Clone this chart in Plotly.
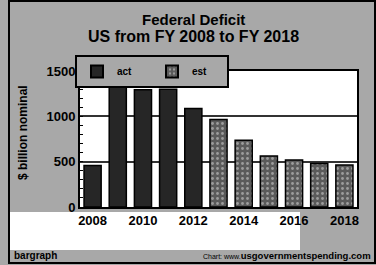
import plotly.graph_objects as go

years_act = [2008, 2009, 2010, 2011, 2012]
deficit_act = [459, 1413, 1294, 1300, 1087]
years_est = [2013, 2014, 2015, 2016, 2017, 2018]
deficit_est = [966, 737, 563, 519, 481, 463]
y_ticks = [0, 500, 1000, 1500]
x_ticks = [2008, 2010, 2012, 2014, 2016, 2018]

W, H = 376, 265
L, R, T, B = 80, 19, 71, 58
pw, ph = W - L - R, H - T - B

def px(x):
    return (x - L) / pw

def py(y):
    return (H - B - y) / ph

FONT = "Liberation Sans"

fig = go.Figure()
fig.add_trace(go.Bar(
    x=years_act, y=deficit_act, name="act", width=0.68,
    marker=dict(color="#262626", line=dict(color="black", width=1.5)),
))
fig.add_trace(go.Bar(
    x=years_est, y=deficit_est, name="est", width=0.68,
    marker=dict(color="#5a5a5a", line=dict(color="black", width=1.5),
                pattern=dict(shape=".", fgcolor="#e0e0e0", size=5, solidity=0.25)),
))

fig.update_layout(
    width=W, height=H,
    margin=dict(l=L, r=R, t=T, b=B),
    paper_bgcolor="#a8a8a8",
    plot_bgcolor="white",
    barmode="overlay",
    font=dict(family=FONT, color="black"),
    showlegend=True,
    legend=dict(
        orientation="h", x=px(75), y=py(55), xanchor="left", yanchor="top",
        bgcolor="#a8a8a8", bordercolor="black", borderwidth=2,
        font=dict(size=10, family=FONT, color="black", weight="bold"),
        entrywidth=30, itemsizing="constant",
    ),
    xaxis=dict(
        range=[2007.5, 2018.5], tickvals=x_ticks, ticktext=[str(v) for v in x_ticks],
        tickfont=dict(size=13, family=FONT, weight="bold"),
        showgrid=False, zeroline=False, showline=True, linecolor="black", linewidth=2,
        mirror=True, ticks="", fixedrange=True,
    ),
    yaxis=dict(
        range=[0, 1500], tickvals=y_ticks,
        tickfont=dict(size=13, family=FONT, weight="bold"),
        showgrid=True, gridcolor="#333333", gridwidth=1.5,
        zeroline=False, showline=True, linecolor="black", linewidth=2, mirror=True,
        ticks="", minor=dict(dtick=100, ticks="inside", ticklen=3, tickcolor="black", showgrid=False),
    ),
)

fig.add_shape(type="rect", xref="paper", yref="paper", x0=px(10), x1=px(300), y0=py(250), y1=py(212),
              fillcolor="white", line=dict(width=0), layer="below")
fig.add_shape(type="rect", xref="paper", yref="paper", x0=px(9), x1=px(375), y0=py(263), y1=py(1),
              fillcolor="rgba(0,0,0,0)", line=dict(color="black", width=2))

fig.add_annotation(text="<b>Federal Deficit</b>", xref="paper", yref="paper", x=px(193), y=py(19),
                   showarrow=False, font=dict(size=15, family=FONT), xanchor="center", yanchor="middle")
fig.add_annotation(text="<b>US from FY 2008 to FY 2018</b>", xref="paper", yref="paper", x=px(193), y=py(36),
                   showarrow=False, font=dict(size=16, family=FONT), xanchor="center", yanchor="middle")
fig.add_annotation(text="<b>$ billion nominal</b>", xref="paper", yref="paper", x=px(23), y=py(133),
                   showarrow=False, textangle=-90, font=dict(size=12, family=FONT), xanchor="center", yanchor="middle")
fig.add_annotation(text="<b>bargraph</b>", xref="paper", yref="paper", x=px(12), y=py(255),
                   showarrow=False, font=dict(size=10, family=FONT), xanchor="left", yanchor="middle")
fig.add_annotation(text="<span style='font-size:7px'>Chart: www.</span><b>usgovernmentspending.com</b>",
                   xref="paper", yref="paper", x=px(373), y=py(255),
                   showarrow=False, font=dict(size=9.5, family=FONT), xanchor="right", yanchor="middle")

fig.write_html("out.html", config={"displayModeBar": False},
               post_script="document.body.style.margin='0';document.body.style.overflow='hidden';")
